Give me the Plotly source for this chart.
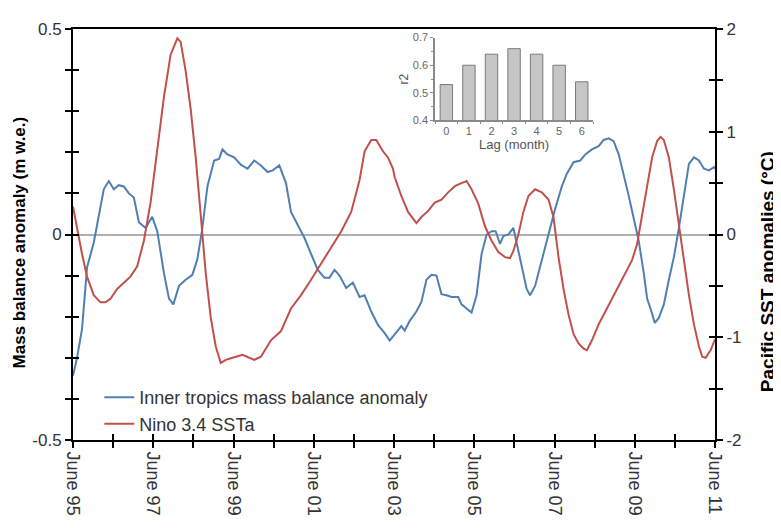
import plotly.graph_objects as go

# ---- data (years after June 1995) ----
t_blue = [0, 0.1, 0.225, 0.35, 0.517, 0.642, 0.767, 0.892, 1.017, 1.142, 1.267, 1.392, 1.517, 1.642,
          1.808, 1.975, 2.1, 2.267, 2.392, 2.5, 2.642, 2.808, 2.975, 3.1, 3.225, 3.35, 3.517, 3.642,
          3.725, 3.85, 4.017, 4.183, 4.35, 4.517, 4.683, 4.85, 4.975, 5.142, 5.308, 5.433, 5.6, 5.767,
          5.933, 6.1, 6.267, 6.392, 6.517, 6.642, 6.808, 6.975, 7.142, 7.267, 7.433, 7.6, 7.767, 7.892,
          8.058, 8.183, 8.267, 8.392, 8.558, 8.683, 8.808, 8.933, 9.058, 9.183, 9.308, 9.433, 9.6, 9.683,
          9.808, 9.933, 10.058, 10.183, 10.308, 10.433, 10.533, 10.642, 10.725, 10.85, 10.975, 11.058,
          11.183, 11.308, 11.392, 11.517, 11.642, 11.767, 11.892, 12.017, 12.183, 12.308, 12.475, 12.642,
          12.767, 12.933, 13.1, 13.225, 13.35, 13.475, 13.6, 13.725, 13.85, 13.975, 14.1, 14.225, 14.308,
          14.392, 14.5, 14.6, 14.725, 14.85, 14.975, 15.1, 15.225, 15.35, 15.475, 15.6, 15.725, 15.85,
          15.975, 16.0]
mass_balance = [-0.344, -0.30, -0.23, -0.08, -0.02, 0.047, 0.11, 0.13, 0.11, 0.12, 0.117, 0.10, 0.09, 0.03,
                0.016, 0.043, 0.008, -0.094, -0.156, -0.17, -0.125, -0.11, -0.098, -0.06, 0.016, 0.117, 0.18, 0.184,
                0.207, 0.195, 0.1875, 0.17, 0.16, 0.18, 0.168, 0.152, 0.156, 0.168, 0.125, 0.055, 0.023, -0.008,
                -0.047, -0.086, -0.105, -0.105, -0.086, -0.10, -0.13, -0.117, -0.152, -0.148, -0.1875, -0.22, -0.24, -0.258,
                -0.238, -0.223, -0.234, -0.21, -0.1875, -0.164, -0.11, -0.098, -0.10, -0.145, -0.148, -0.152, -0.152, -0.17,
                -0.18, -0.19, -0.148, -0.047, 0.0, 0.008, 0.008, -0.023, -0.004, 0.0, 0.016, -0.023,
                -0.078, -0.133, -0.148, -0.125, -0.078, -0.031, 0.016, 0.0625, 0.117, 0.148, 0.176, 0.18,
                0.195, 0.207, 0.215, 0.23, 0.234, 0.227, 0.195, 0.148, 0.094, 0.039, -0.016, -0.094, -0.156,
                -0.18, -0.215, -0.203, -0.17, -0.11, -0.055, 0.016, 0.10, 0.172, 0.1875, 0.18, 0.16, 0.156,
                0.164, 0.16]

t_red = [0, 0.1, 0.225, 0.35, 0.517, 0.683, 0.808, 0.933, 1.1, 1.267, 1.433, 1.6, 1.767, 1.933, 2.1,
         2.267, 2.433, 2.6, 2.683, 2.808, 2.933, 3.058, 3.183, 3.308, 3.433, 3.558, 3.683, 3.808, 3.975,
         4.225, 4.517, 4.683, 4.933, 5.183, 5.433, 5.683, 5.933, 6.183, 6.433, 6.683, 6.933, 7.142, 7.267,
         7.433, 7.558, 7.725, 7.85, 7.975, 8.017, 8.183, 8.35, 8.558, 8.683, 8.85, 9.017, 9.183, 9.35, 9.517,
         9.683, 9.808, 9.933, 10.1, 10.267, 10.433, 10.6, 10.767, 10.892, 10.975, 11.1, 11.225, 11.35,
         11.517, 11.683, 11.85, 11.975, 12.1, 12.225, 12.35, 12.475, 12.6, 12.725, 12.808, 12.933, 13.1,
         13.267, 13.433, 13.6, 13.767, 13.933, 14.058, 14.183, 14.308, 14.433, 14.558, 14.642, 14.725,
         14.85, 14.975, 15.1, 15.225, 15.35, 15.475, 15.6, 15.683, 15.767, 15.892, 16.0]
nino34 = [0.27, 0.06, -0.19, -0.41, -0.59, -0.66, -0.66, -0.625, -0.53, -0.47, -0.41, -0.31, -0.06, 0.31, 0.81,
          1.34, 1.75, 1.91, 1.875, 1.59, 1.22, 0.75, 0.19, -0.375, -0.81, -1.09, -1.25, -1.22, -1.2,
          -1.17, -1.22, -1.19, -1.03, -0.94, -0.72, -0.59, -0.44, -0.28, -0.125, 0.03, 0.22, 0.53, 0.81,
          0.92, 0.92, 0.81, 0.75, 0.64, 0.56, 0.375, 0.22, 0.11, 0.17, 0.23, 0.31, 0.34, 0.41, 0.47,
          0.5, 0.52, 0.44, 0.30, 0.08, -0.06, -0.17, -0.22, -0.23, -0.16, 0.0, 0.22, 0.375,
          0.44, 0.41, 0.34, 0.17, -0.22, -0.53, -0.78, -0.97, -1.06, -1.11, -1.125, -1.03, -0.875,
          -0.75, -0.625, -0.5, -0.375, -0.25, -0.094, 0.19, 0.5, 0.75, 0.91, 0.95, 0.92,
          0.75, 0.44, 0.094, -0.28, -0.59, -0.875, -1.09, -1.19, -1.2, -1.125, -1.02]

x_tick_vals = list(range(17))
x_tick_text = ["June 95", "", "June 97", "", "June 99", "", "June 01", "", "June 03", "",
               "June 05", "", "June 07", "", "June 09", "", "June 11"]
left_tick_vals = [-0.5, -0.4, -0.3, -0.2, -0.1, 0, 0.1, 0.2, 0.3, 0.4, 0.5]
left_tick_text = ["-0.5", "", "", "", "", "0", "", "", "", "", "0.5"]
right_tick_vals = [-2, -1.5, -1, -0.5, 0, 0.5, 1, 1.5, 2]
right_tick_text = ["-2", "", "-1", "", "0", "", "1", "", "2"]

lag_months = [0, 1, 2, 3, 4, 5, 6]
r2_values = [0.53, 0.60, 0.64, 0.66, 0.64, 0.60, 0.54]

BLUE = "#4f7fb3"
RED = "#c0504d"
FONT = "Liberation Sans, Arial, sans-serif"

fig = go.Figure()
fig.add_trace(go.Scatter(x=t_blue, y=mass_balance, mode="lines", name="Inner tropics mass balance anomaly",
                         line=dict(color=BLUE, width=2), xaxis="x", yaxis="y"))
fig.add_trace(go.Scatter(x=t_red, y=nino34, mode="lines", name="Nino 3.4 SSTa",
                         line=dict(color=RED, width=2), xaxis="x", yaxis="y2"))
# empty helper traces so the overlay axes (inner tick marks) are drawn
fig.add_trace(go.Scatter(x=[None], y=[None], xaxis="x2", yaxis="y3", showlegend=False, hoverinfo="skip"))
fig.add_trace(go.Scatter(x=[None], y=[None], xaxis="x2", yaxis="y4", showlegend=False, hoverinfo="skip"))
fig.add_trace(go.Bar(x=lag_months, y=r2_values, width=0.55, showlegend=False,
                     marker=dict(color="#c6c6c6", line=dict(color="#7a7a7a", width=1)),
                     xaxis="x3", yaxis="y5"))

tickfont = dict(family=FONT, size=17, color="#333333")
xtickfont = dict(family=FONT, size=18, color="#333333")
common_tick = dict(ticklen=6, tickwidth=1.5, tickcolor="black", showgrid=False)

# page body has an 8px margin, so the figure is 8px smaller than the window
fig.update_layout(
    width=773, height=520,
    margin=dict(l=65, r=66, t=13, b=80),
    paper_bgcolor="white", plot_bgcolor="white",
    font=dict(family=FONT, color="#333333"),
    xaxis=dict(range=[0, 16], domain=[0, 1], tickvals=x_tick_vals, ticktext=x_tick_text,
               tickangle=90, ticks="outside", showline=True, linecolor="black", linewidth=2,
               mirror=True, zeroline=False, tickfont=xtickfont, **common_tick),
    xaxis2=dict(range=[0, 16], overlaying="x", anchor="y", side="bottom", tickvals=x_tick_vals,
                ticks="inside", showticklabels=False, zeroline=False, showline=False, **common_tick),
    yaxis=dict(range=[-0.5, 0.5], domain=[0, 1], tickvals=left_tick_vals, ticktext=left_tick_text,
               ticks="outside", showline=True, linecolor="black", linewidth=2,
               zeroline=True, zerolinecolor="#b0b0b0", zerolinewidth=1.5, tickfont=tickfont, **common_tick),
    yaxis2=dict(range=[-2, 2], overlaying="y", side="right", anchor="x", tickvals=right_tick_vals,
                ticktext=right_tick_text, ticks="outside", showline=True, linecolor="black", linewidth=2,
                zeroline=False, tickfont=tickfont, **common_tick),
    yaxis3=dict(range=[-0.5, 0.5], overlaying="y", side="left", anchor="x2", tickvals=left_tick_vals,
                ticks="inside", showticklabels=False, zeroline=False, showline=False, **common_tick),
    yaxis4=dict(range=[-2, 2], overlaying="y", side="right", anchor="x2", tickvals=right_tick_vals,
                ticks="inside", showticklabels=False, zeroline=False, showline=False, **common_tick),
    xaxis3=dict(domain=[0.564, 0.81], anchor="y5", range=[-0.5, 6.5], tickvals=lag_months,
                ticks="", showline=True, linecolor="#8a8a8a", linewidth=1.5, showgrid=False, zeroline=False,
                tickfont=dict(family=FONT, size=11, color="#666666"),
                minor=dict(tick0=0.5, dtick=1, ticks="outside", ticklen=2, tickcolor="#8a8a8a"),
                title=dict(text="Lag (month)", font=dict(family=FONT, size=13, color="#555555"), standoff=0)),
    yaxis5=dict(domain=[0.7775, 0.979], anchor="x3", range=[0.4, 0.7], tickvals=[0.4, 0.5, 0.6, 0.7],
                ticks="outside", ticklen=3, tickcolor="#8a8a8a", showline=True, linecolor="#8a8a8a",
                linewidth=1.5, showgrid=False, zeroline=False,
                tickfont=dict(family=FONT, size=11, color="#666666"),
                minor=dict(dtick=0.05, ticks="outside", ticklen=2, tickcolor="#8a8a8a"),
                title=dict(text="r2", font=dict(family=FONT, size=12, color="#555555"), standoff=2)),
    legend=dict(x=0.041, y=0.148, xanchor="left", yanchor="top", bgcolor="rgba(0,0,0,0)",
                font=dict(family=FONT, size=18, color="#333333"), tracegroupgap=0),
    annotations=[
        dict(text="<b>Mass balance anomaly (m w.e.)</b>", xref="paper", yref="paper",
             x=-0.083, y=0.48, xanchor="center", yanchor="middle", textangle=-90, showarrow=False,
             font=dict(family=FONT, size=17, color="black")),
        dict(text="<b>Pacific SST anomalies (°C)</b>", xref="paper", yref="paper",
             x=1.082, y=0.41, xanchor="center", yanchor="middle", textangle=-90, showarrow=False,
             font=dict(family=FONT, size=19, color="black")),
    ],
)

fig.write_html("out.html")
